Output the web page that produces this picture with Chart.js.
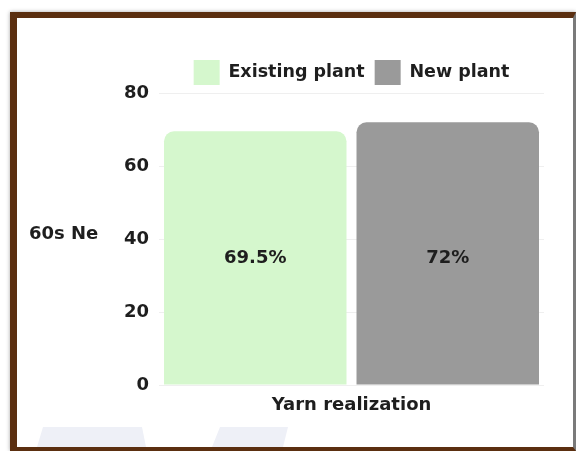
<!DOCTYPE html>
<html>
<head>
<meta charset="utf-8">
<script src="https://cdn.jsdelivr.net/npm/chart.js@4.4.0/dist/chart.umd.min.js"></script>
<style>
  html, body { margin: 0; padding: 0; background: #fff; overflow: hidden; }
  #wrap { position: relative; width: 576px; height: 451px; overflow: hidden; }
  #chart { position: absolute; left: 0; top: 0; z-index: 1; }
  .mark { position: absolute; background: #eef0f7; z-index: 0; }
  #frame {
    position: absolute; left: 10px; top: 12px; right: 0; bottom: 0;
    border-left: 7px solid #5b2f10; border-top: 6px solid #5b2f10;
    border-bottom: 4px solid #5b2f10; border-right: 3px solid #7a7a7a;
    box-shadow: 0 0 4px rgba(0,0,0,0.35);
    z-index: 2; pointer-events: none;
  }
</style>
</head>
<body>
<div id="wrap">
  <!-- faint watermark shapes at the bottom -->
  <div class="mark" style="left:37px;top:427px;width:109px;height:20px;clip-path:polygon(6px 0,105px 0,109px 100%,0 100%);"></div>
  <div class="mark" style="left:212px;top:427px;width:76px;height:20px;clip-path:polygon(8px 0,76px 0,71px 100%,0 100%);"></div>
  <canvas id="chart" width="576" height="451"></canvas>
  <div id="frame"></div>
</div>
<script>
// Data
const categories = ['Yarn realization'];
const existingPlant = [69.5];
const newPlant = [72];
const valueLabels = [['69.5%'], ['72%']];
const yTickValues = [0, 20, 40, 60, 80];
const yAxisLabel = '60s Ne';

const textColor = '#1e1e1e';
const fontFamily = "'DejaVu Sans', sans-serif";

// Draws the percentage text in the middle of the bars (same height for the group)
const barValueLabels = {
  id: 'barValueLabels',
  afterDatasetsDraw(chart) {
    const ctx = chart.ctx;
    const metas = chart.data.datasets.map((ds, i) => chart.getDatasetMeta(i));
    ctx.save();
    ctx.font = `700 18px ${fontFamily}`;
    ctx.fillStyle = textColor;
    ctx.textAlign = 'center';
    ctx.textBaseline = 'middle';
    metas.forEach((meta, i) => {
      meta.data.forEach((bar, j) => {
        const lowestTop = Math.max(...metas.map((m) => m.data[j].y));
        ctx.fillText(valueLabels[i][j], bar.x, (lowestTop + bar.base) / 2);
      });
    });
    ctx.restore();
  }
};

// Horizontal y axis label left of the tick labels
const sideLabel = {
  id: 'sideLabel',
  afterDraw(chart) {
    const ctx = chart.ctx;
    const area = chart.chartArea;
    ctx.save();
    ctx.font = `700 18px ${fontFamily}`;
    ctx.fillStyle = textColor;
    ctx.textAlign = 'left';
    ctx.textBaseline = 'middle';
    ctx.fillText(yAxisLabel, 29, (area.top + area.bottom) / 2 - 5);
    ctx.restore();
  }
};

const ctx = document.getElementById('chart').getContext('2d');
const chart = new Chart(ctx, {
  type: 'bar',
  data: {
    labels: categories,
    datasets: [
      {
        label: 'Existing plant',
        data: existingPlant,
        backgroundColor: '#d5f7cd',
        borderRadius: 10,
        categoryPercentage: 1,
        barPercentage: 0.948
      },
      {
        label: 'New plant',
        data: newPlant,
        backgroundColor: '#9a9a9a',
        borderRadius: 10,
        categoryPercentage: 1,
        barPercentage: 0.948
      }
    ]
  },
  options: {
    responsive: false,
    animation: false,
    layout: { padding: { left: 0, right: 32, top: 50, bottom: 36 } },
    plugins: {
      legend: {
        position: 'top',
        fullSize: false,
        maxHeight: 43,
        labels: {
          boxWidth: 26,
          boxHeight: 25,
          padding: 10,
          color: textColor,
          font: { family: fontFamily, size: 17.5, weight: '700' }
        }
      },
      tooltip: { enabled: false }
    },
    scales: {
      x: {
        grid: { display: false, drawTicks: false },
        border: { display: false },
        ticks: {
          padding: 10,
          color: textColor,
          font: { family: fontFamily, size: 18, weight: '700' }
        },
        afterFit(scale) { scale.height = 30; }
      },
      y: {
        min: 0,
        max: 80,
        grid: { color: '#efefef', drawTicks: false },
        border: { display: false },
        afterBuildTicks(scale) {
          scale.ticks = yTickValues.map((v) => ({ value: v }));
        },
        ticks: {
          padding: 10,
          color: textColor,
          font: { family: fontFamily, size: 18, weight: '700' }
        },
        afterFit(scale) { scale.width = 159; }
      }
    }
  },
  plugins: [barValueLabels, sideLabel]
});
</script>
</body>
</html>
